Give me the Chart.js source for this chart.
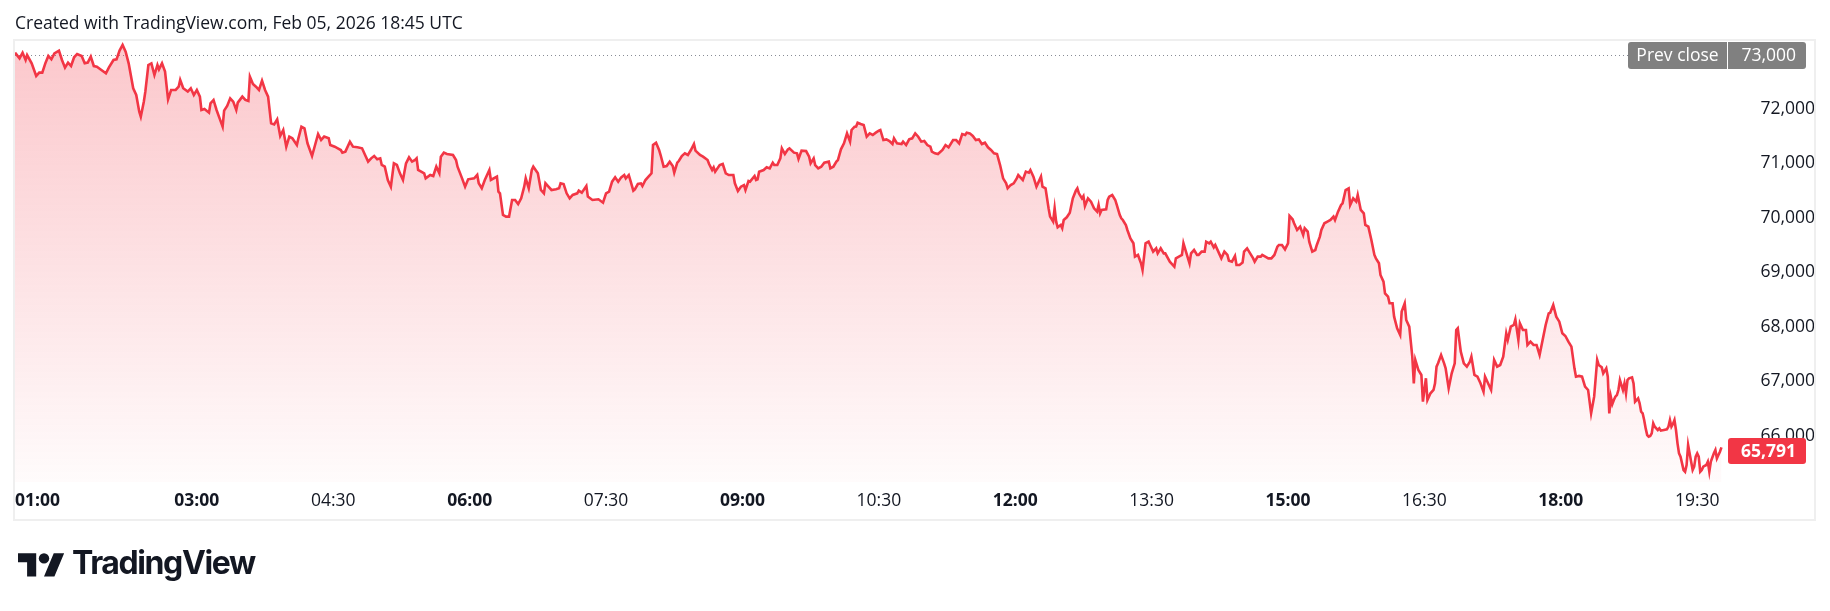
<!DOCTYPE html>
<html><head><meta charset="utf-8">
<script src="https://cdn.jsdelivr.net/npm/chart.js"></script>
<style>
html,body{margin:0;padding:0;background:#fff;width:1830px;height:611px;overflow:hidden}
#wrap{position:relative;width:1830px;height:611px}
canvas{position:absolute;left:0;top:0}
#hdr{position:absolute;left:15px;top:10px;font-family:'Open Sans',sans-serif;font-size:17.5px;line-height:normal;color:#131722;white-space:nowrap}
#logoIcon{position:absolute;left:18px;top:548px}
#logoText{position:absolute;left:72px;top:547px;font-family:Inter,sans-serif;font-weight:700;font-size:32px;letter-spacing:-1.4px;line-height:1;color:#131722;white-space:nowrap}
</style></head><body>
<div id="wrap">
<canvas id="c" width="1830" height="611"></canvas>
<div id="hdr">Created with TradingView.com, Feb 05, 2026 18:45 UTC</div>
<svg id="logoIcon" width="46.8" height="36.4" viewBox="0 0 36 28"><path fill="#131722" d="M14 22H7V11H0V4h14v18zM28 22h-8l7.5-18h8L28 22z"/><circle fill="#131722" cx="20" cy="8" r="4"/></svg>
<div id="logoText">TradingView</div>
</div>
<script>
// minutes after 01:00
const minutesFromOpen = [
0,3,5,7,8,11,14,16,18,20,22,24,26,29,31,33,35,37,39,41,44,46,48,50,52,54,57,60,62,65,67,69,71,73,75,78,80,82,83,85,86,88,90,92,94,95,97,99,
101,103,106,108,109,111,114,116,118,120,122,123,125,128,129,131,133,135,137,138,140,142,144,146,147,150,152,154,155,157,159,161,163,165,167,169,171,173,175,177,179,181,183,186,187,189,191,193,196,198,200,
202,204,207,208,211,213,215,216,218,221,223,226,229,231,233,235,237,239,241,242,244,246,248,250,252,254,256,258,260,262,264,265,266,270,271,274,276,278,280,281,283,285,289,291,292,295,297,299,
303,305,306,308,310,313,314,318,319,320,322,324,326,328,330,332,334,336,337,339,341,342,345,347,349,350,352,354,357,359,360,362,364,366,368,371,372,374,377,378,381,385,
388,390,392,394,396,398,400,402,403,405,406,408,409,411,413,414,416,418,420,421,423,425,426,428,430,432,434,435,437,438,440,442,444,446,448,449,452,454,457,458,460,461,462,465,467,469,471,474,475,477,479,481,482,484,485,488,489,490,491,494,496,498,500,
501,503,505,506,508,510,511,514,516,517,519,522,524,525,527,528,530,532,534,537,538,540,542,543,545,547,549,551,552,554,555,556,558,560,562,564,566,568,570,571,573,575,577,579,580,582,585,586,588,590,592,594,596,598,600,
602,604,605,607,609,612,614,616,619,621,623,625,627,628,630,632,634,636,638,640,642,644,646,648,650,
652,654,655,657,659,661,662,664,665,667,669,670,672,674,675,677,678,680,682,683,685,686,687,688,690,691,692,694,696,698,700,
701,702,704,705,706,708,710,711,712,714,715,716,717,720,721,722,724,726,727,729,730,731,733,734,736,738,739,741,743,744,746,748,749,751,753,754,756,758,759,762,763,765,766,768,770,771,773,775,776,778,780,781,783,785,786,788,789,791,792,794,796,798,800,
801,803,805,806,808,810,811,813,815,817,818,820,822,823,825,827,829,831,833,834,836,838,840,841,843,844,846,848,850,851,853,854,856,858,859,861,862,864,866,868,870,871,873,875,876,878,880,881,883,885,886,888,890,891,893,895,897,898,900,
901,903,904,906,907,909,910,912,914,915,917,918,920,922,923,924,926,928,929,931,932,934,936,937,938,939,941,943,944,946,948,950,951,952,954,956,958,960,961,963,965,967,969,970,972,974,976,978,980,982,984,985,987,989,990,992,993,995,997,998,1000,
1002,1004,1006,1008,1010,1012,1013,1015,1017,1019,1021,1023,1025,1027,1029,1030,1032,1034,1036,1038,1040,1042,1044,1045,1047,1048,1050,1051,1052,1053,1054,1055,1056,1057,1058,1059,1061,1062,1063,1064,1065,1067,1068,1069,1070,1071,1072,1073,1074,1075,1076,1077,1078,1079,1080,1081,1082,1084,1085,1086,1088,1090,1091,1092,1093,1094,1095,1096,1097,1098,1099,1100,
1101,1102,1103,1104,1106,1107,1108,1109,1110,1111,1112,1113,1114,1116,1117,1118,1119,1121,1122,1123,1124,1125,1126
];
const prices = [
73034,72930,73034,72900,72991,72838,72606,72667,72667,72838,72973,72912,73022,73071,72900,72759,72851,72789,72949,73010,72973,72838,72851,72961,72789,72777,72716,72655,72765,72900,72912,73071,73175,73052,72838,72380,72257,71952,71860,72135,72319,72808,72838,72624,72808,72728,72838,72686,
72178,72349,72349,72410,72533,72380,72319,72380,72257,72349,72227,71982,72000,71933,72105,72166,71982,71829,71676,71970,72056,72196,72135,71982,72117,72227,72166,72147,72594,72459,72410,72349,72520,72349,72227,71737,71719,71811,71505,71615,71309,71493,71462,71340,71462,71676,71646,71371,71138,71340,71542,
71432,71493,71462,71340,71309,71279,71248,71199,71218,71401,71309,71297,71279,71157,71034,71095,71138,71077,71095,70973,70942,70698,70575,71004,70973,70820,70698,71004,71114,71034,71065,71095,70881,70820,70728,70790,70771,70942,70820,71126,71199,71175,71157,71065,70942,70728,70575,70710,
70728,70790,70637,70545,70698,70881,70698,70759,70484,70453,70056,70025,70025,70331,70331,70257,70361,70575,70728,70545,70881,70942,70820,70514,70453,70637,70575,70514,70527,70545,70637,70624,70453,70361,70423,70453,70502,70465,70588,70392,70331,70343,
70281,70453,70483,70667,70746,70667,70746,70789,70728,70789,70697,70501,70526,70624,70636,70587,70697,70758,70820,71339,71382,71248,71156,70942,70954,71034,70954,70832,71015,71046,71138,71187,71156,71248,71358,71236,71156,71125,71064,70991,70881,70930,70850,70972,70991,70820,70789,70789,70636,70495,70575,70605,70514,70679,70667,70771,70697,70709,70850,70881,70930,70911,71015,
70972,70972,71095,71278,71174,71260,71278,71199,71187,71083,71236,71229,71125,71003,71095,70972,70911,70942,71015,71034,70911,70942,71034,71064,71260,71370,71553,71401,71615,71676,71680,71749,71725,71706,71492,71553,71523,71566,71602,71615,71431,71443,71413,71358,71462,71370,71358,71401,71339,71443,71462,71553,71492,71401,71413,
71339,71309,71217,71187,71174,71248,71339,71297,71431,71431,71370,71541,71523,71566,71553,71505,71431,71443,71358,71382,71297,71248,71187,71174,70972,
70728,70636,70545,70606,70636,70728,70789,70728,70698,70851,70832,70881,70759,70575,70636,70759,70575,70545,70178,70025,69933,70178,69933,69829,69872,69811,69964,70013,70098,70361,70502,
70545,70453,70361,70404,70221,70361,70300,70239,70178,70117,70239,70086,70147,70159,70331,70392,70422,70331,70239,70055,69994,69964,69872,69780,69627,69536,69291,69322,69169,69046,69536,69566,69505,69383,69444,69352,69444,69352,69352,69199,69169,69107,69260,69291,69322,69536,69352,69169,69352,69413,69322,69322,69383,69383,69566,69536,69566,69462,69505,69383,69260,69383,69322,
69218,69199,69303,69138,69138,69181,69383,69444,69352,69260,69199,69291,69291,69322,69291,69260,69260,69322,69474,69505,69505,69425,69536,70037,69976,69903,69780,69841,69688,69811,69750,69566,69383,69413,69505,69658,69780,69903,69933,69964,70025,69964,70117,70239,70269,70514,70545,70239,70361,70300,70422,70147,70086,69872,69841,69597,69322,69260,69169,
68955,68832,68618,68557,68435,68435,68190,67976,67854,68282,68435,68129,68007,67456,66967,67395,67212,67120,66630,67059,66661,66783,66845,66967,67273,67334,67487,67334,67242,66875,67150,67334,67945,67976,67548,67334,67273,67364,67456,67120,67089,66967,66814,67089,66967,66845,67395,67273,67303,67456,67884,67762,68007,68037,68141,67762,68068,67945,67945,67670,67731,
67670,67670,67487,67762,68037,68251,68263,68404,68190,68098,67884,67835,67731,67640,67242,67089,67102,67089,66906,66845,66417,66722,67395,67303,67260,67150,67241,67088,66416,66721,66587,66660,66721,66752,66844,67027,66844,66966,66783,67027,67058,67076,66966,66630,66660,66691,66599,66446,66416,66293,66140,66018,65987,66000,66049,66232,66171,66110,66140,66098,66110,66122,66171,66293,66171,66220,66293,66110,65865,65682,65621,65498,
65376,65345,65468,65835,65529,65376,65437,65621,65682,65621,65345,65376,65437,65468,65529,65345,65529,65682,65743,65590,65651,65712,65791
];
const timeTickMinutes = [0,120,210,300,390,480,570,660,750,840,930,1020,1110];
const timeTickLabels = ['01:00','03:00','04:30','06:00','07:30','09:00','10:30','12:00','13:30','15:00','16:30','18:00','19:30'];
const boldTimeLabels = ['01:00','03:00','06:00','09:00','12:00','15:00','18:00'];
const priceTicks = [66000,67000,68000,69000,70000,71000,72000];
const prevClose = 73000;
const lastPrice = 65791;

const FONT = "'Open Sans', sans-serif";
const RED = '#f23645';
const mctx = document.createElement('canvas').getContext('2d');
mctx.font = "17.5px " + FONT;
const yLabelW = mctx.measureText('72,000').width;
const fmt = v => Number(v).toLocaleString('en-US');

const overlay = {
  id: 'overlay',
  beforeDatasetsDraw(chart) {
    const {ctx, chartArea, scales:{y}} = chart;
    const py = Math.round(y.getPixelForValue(prevClose)) + 0.5;
    ctx.save();
    ctx.strokeStyle = '#888c96';
    ctx.lineWidth = 1;
    ctx.setLineDash([1, 3]);
    ctx.beginPath(); ctx.moveTo(chartArea.left, py); ctx.lineTo(1628, py); ctx.stroke();
    ctx.restore();
  },
  afterDraw(chart) {
    const {ctx, scales:{y}} = chart;
    ctx.save();
    ctx.strokeStyle = '#efefef';
    ctx.lineWidth = 2;
    ctx.strokeRect(14, 40, 1801, 480);
    const pc = y.getPixelForValue(prevClose) + 1;
    ctx.fillStyle = '#808080';
    ctx.beginPath(); ctx.roundRect(1628, pc - 13.5, 178, 27, 3); ctx.fill();
    ctx.fillStyle = '#ffffff';
    ctx.fillRect(1727, pc - 13.5, 1, 27);
    ctx.font = "17.5px " + FONT;
    ctx.textBaseline = 'middle';
    ctx.textAlign = 'center';
    ctx.fillText('Prev close', 1677.5, pc + 1);
    ctx.textAlign = 'right';
    ctx.fillText(fmt(prevClose), 1796, pc + 1);
    const lp = y.getPixelForValue(lastPrice) + 3.5;
    ctx.fillStyle = RED;
    ctx.beginPath(); ctx.roundRect(1728, lp - 13, 78, 26, 3); ctx.fill();
    ctx.fillStyle = '#ffffff';
    ctx.font = "bold 17.5px " + FONT;
    ctx.fillText(fmt(lastPrice), 1796, lp + 1);
    ctx.restore();
  }
};

new Chart(document.getElementById('c'), {
  type: 'line',
  data: { datasets: [{
    data: minutesFromOpen.map((m, i) => ({x: m, y: prices[i]})),
    borderColor: RED, borderWidth: 2.6, pointRadius: 0, tension: 0, fill: 'start',
    backgroundColor: (c) => {
      const {chartArea, ctx} = c.chart;
      if (!chartArea) return 'rgba(242,54,69,0.15)';
      const g = ctx.createLinearGradient(0, chartArea.top, 0, chartArea.bottom);
      g.addColorStop(0, 'rgba(242,54,69,0.28)');
      g.addColorStop(1, 'rgba(242,54,69,0.02)');
      return g;
    }
  }]},
  options: {
    responsive: false, animation: false, devicePixelRatio: 1,
    layout: { padding: { left: 15, top: 41, right: 15, bottom: 91 } },
    plugins: { legend: { display: false }, tooltip: { enabled: false } },
    scales: {
      x: {
        type: 'linear', min: 0, max: 1129,
        grid: { display: false, drawTicks: false }, border: { display: false },
        afterFit(s) { s.height = 38; },
        afterBuildTicks(s) { s.ticks = timeTickMinutes.map(v => ({value: v})).concat([{value: 1129}]); },
        ticks: {
          autoSkip: false, maxRotation: 0, minRotation: 0, align: 'inner', padding: 9, color: '#131722',
          callback: (v) => { const i = timeTickMinutes.indexOf(v); return i >= 0 ? timeTickLabels[i] : ''; },
          font: (c) => {
            const i = c.tick ? timeTickMinutes.indexOf(c.tick.value) : -1;
            return { family: FONT, size: 17.5, weight: (i >= 0 && boldTimeLabels.includes(timeTickLabels[i])) ? 'bold' : 'normal' };
          }
        }
      },
      y: {
        type: 'linear', position: 'right', min: 65156, max: 73248,
        grid: { display: false, drawTicks: false }, border: { display: false },
        afterFit(s) { s.width = 89; },
        afterBuildTicks(s) { s.ticks = priceTicks.map(v => ({value: v})); },
        ticks: { crossAlign: 'far', padding: 70 - yLabelW, color: '#131722', font: { family: FONT, size: 17.5 }, callback: (v) => fmt(v) }
      }
    }
  },
  plugins: [overlay]
});
</script>
</body></html>
